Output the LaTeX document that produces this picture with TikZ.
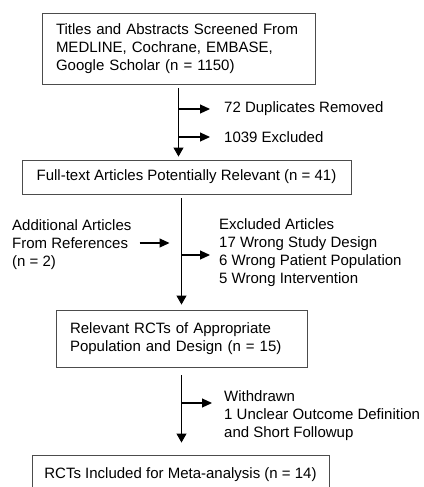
\documentclass[tikz,border=0pt]{standalone}
\usepackage{fontspec}
\setmainfont{Liberation Sans}
\usetikzlibrary{arrows.meta}

\begin{document}
\begin{tikzpicture}[x=1pt,y=-1pt,
        box/.style={draw=black!70,line width=0.9pt,inner sep=0pt,font=\fontsize{15}{18}\selectfont},
        lbl/.style={inner sep=0pt,align=left,anchor=west,font=\fontsize{15}{18}\selectfont},
        arr/.style={line width=1.1pt,-{Triangle[length=9pt,width=10pt]}},
        sarr/.style={line width=1.1pt,-{Triangle[length=10pt,width=9pt]}}]
            \useasboundingbox[fill=white] (0,0) rectangle (423,487);
            % boxes
            \node[box,minimum width=273,minimum height=71,text width=245,align=left] (screened) at (178.5,48.5) {Titles and Abstracts Screened From\\MEDLINE, Cochrane, EMBASE,\\Google Scholar (n = 1150)};
            \node[box,minimum width=329,minimum height=34] (fulltext) at (186.5,177) {Full-text Articles Potentially Relevant (n = 41)};
            \node[box,minimum width=251,minimum height=57,text width=223,align=left] (relevant) at (181.5,338.5) {Relevant RCTs of Appropriate\\Population and Design (n = 15)};
            \node[box,minimum width=297,minimum height=40] (included) at (180.5,475) {RCTs Included for Meta-analysis (n = 14)};
            % side texts
            \node[lbl] (dupl) at (224,109) {72 Duplicates Removed};
            \node[lbl] (excl) at (224,137) {1039 Excluded};
            \node[lbl] (addit) at (12,244.5) {Additional Articles\\From References\\(n = 2)};
            \node[lbl] (wrong) at (219,253) {Excluded Articles\\17 Wrong Study Design\\6 Wrong Patient Population\\5 Wrong Intervention};
            \node[lbl] (withdr) at (224,416) {Withdrawn\\1 Unclear Outcome Definition\\and Short Followup};
            \coordinate (wrongin) at (219,255);
            \coordinate (withdrin) at (224,403);
            % main arrows
            \draw[arr,shorten <=4pt,shorten >=3pt] (screened.south) -- (screened.south |- fulltext.north);
            \draw[arr,shorten <=4pt,shorten >=5pt] (fulltext.south -| relevant.north) -- (relevant.north);
            \draw[arr,shorten <=8pt,shorten >=12pt] (relevant.south) -- (relevant.south |- included.north);
            % side arrows
            \draw[sarr,shorten >=14pt] (dupl.west -| screened.south) -- (dupl.west);
            \draw[sarr,shorten >=14pt] (excl.west -| screened.south) -- (excl.west);
            \draw[sarr,shorten <=8pt,shorten >=12pt] (addit.east |- 0,243) -- (relevant.north |- 0,243);
            \draw[sarr,shorten >=9pt] (wrongin -| relevant.north) -- (wrongin);
            \draw[sarr,shorten >=12pt] (withdrin -| relevant.south) -- (withdrin);
        \end{tikzpicture}
\end{document}
